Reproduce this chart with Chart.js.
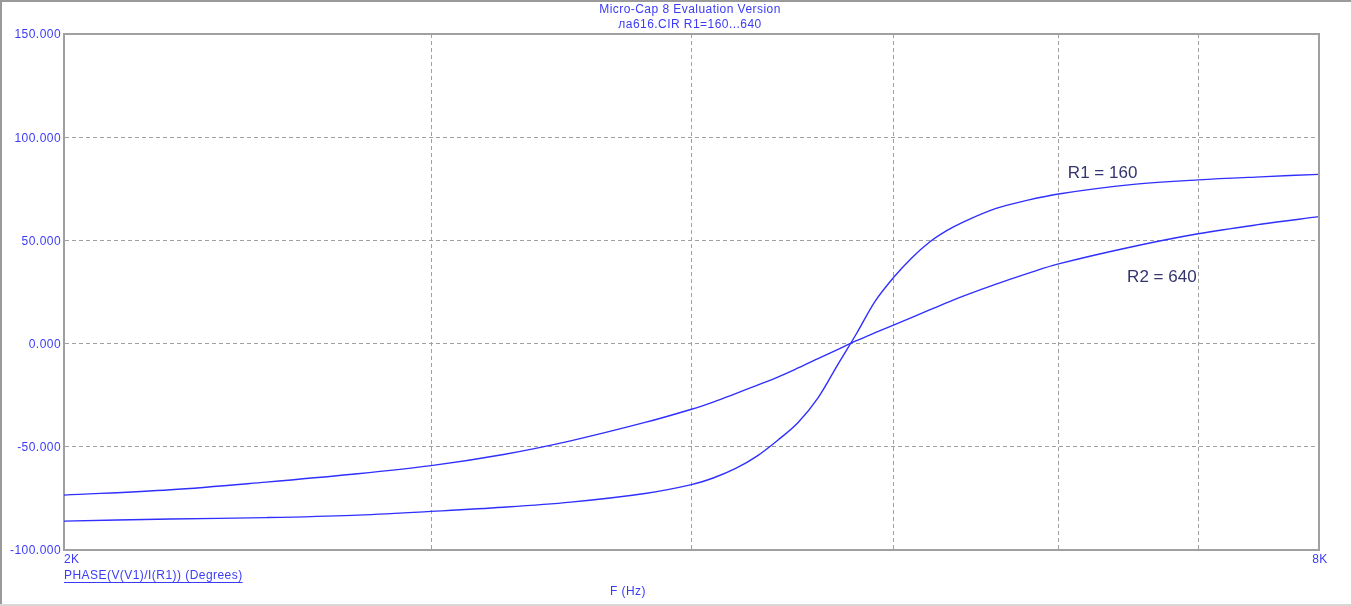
<!DOCTYPE html>
<html>
<head>
<meta charset="utf-8">
<script src="https://cdn.jsdelivr.net/npm/chart.js@4.4.0/dist/chart.umd.min.js"></script>
<style>
  html, body { margin: 0; padding: 0; background: #fff; }
  #wrap { width: 1351px; height: 606px; }
</style>
</head>
<body>
<div id="wrap"><canvas id="phaseChart" width="1351" height="606"></canvas></div>
<script>
// ---------------- DATA ----------------
const freqs = [2000, 2250, 2500, 2750, 3000, 3250, 3500, 3800, 4000, 4100, 4200, 4300, 4400, 4500, 4600, 4700, 4800, 4900, 5000, 5100, 5200, 5300, 5400, 5600, 5800, 6000, 6500, 7000, 7500, 8000];
const phaseR160 = [-86.0, -85.0, -84.3, -83.2, -81.3, -79.3, -76.8, -72.6, -68.3, -65.0, -60.5, -54.5, -46.8, -38.2, -26.3, -10.4, 4.9, 20.6, 32.0, 41.4, 49.0, 54.6, 58.9, 65.5, 69.5, 72.5, 77.0, 79.3, 80.8, 82.0];
const phaseR640 = [-73.4, -70.8, -67.1, -63.3, -59.1, -53.7, -47.1, -38.2, -31.8, -28.2, -24.2, -20.2, -16.2, -11.8, -7.3, -2.9, 1.4, 5.3, 9.0, 12.6, 16.2, 19.7, 23.0, 28.8, 34.0, 38.6, 46.8, 53.2, 57.8, 61.5];
const seriesNames = ["R1 = 160", "R2 = 640"];
const xTicks = [2000, 3000, 4000, 5000, 6000, 7000, 8000];
const xTickLabels = { 2000: "2K", 8000: "8K" };
const yTicks = [-100, -50, 0, 50, 100, 150];
const titleLines = ["Micro-Cap 8 Evaluation Version", "ла616.CIR R1=160...640"];
const yAxisTitle = "PHASE(V(V1)/I(R1)) (Degrees)";
const xAxisTitle = "F (Hz)";

// where the curve names sit (data coordinates)
const seriesLabelAt = [
  { f: 6062, v: 82.4 },
  { f: 6472, v: 32.3 }
];

const BLUE = "#2f2fff";
const TEXT_BLUE = "#3b3bf5";
const GRID = "#a0a0a0";
const SMALL_FONT = "12px Arial, 'Liberation Sans', sans-serif";

// ---------------- EXTRA DRAWING ----------------
const microCapDecor = {
  id: "microCapDecor",
  beforeDraw(chart) {
    const c = chart.ctx;
    c.save();
    c.fillStyle = "#fff";
    c.fillRect(0, 0, chart.width, chart.height);
    // window frame
    c.fillStyle = "#9a9a9a";
    c.fillRect(0, 0, 2, chart.height);
    c.fillRect(0, 0, chart.width, 2);
    c.fillStyle = "#d8d8d8";
    c.fillRect(0, chart.height - 2, chart.width, 2);
    c.restore();
  },
  afterDraw(chart) {
    const c = chart.ctx;
    const xs = chart.scales.x;
    const ys = chart.scales.y;
    const area = chart.chartArea;
    c.save();

    // top and right sides of the plot box
    c.strokeStyle = GRID;
    c.lineWidth = 2;
    c.beginPath();
    c.moveTo(area.left, area.top);
    c.lineTo(area.right, area.top);
    c.lineTo(area.right, area.bottom);
    c.stroke();

    c.font = SMALL_FONT;
    c.letterSpacing = "0.45px";
    c.fillStyle = TEXT_BLUE;
    c.textBaseline = "middle";

    // title
    c.textAlign = "center";
    c.fillText(titleLines[0], 690, 10);
    c.fillText(titleLines[1], 690, 25);

    // y tick labels
    c.textAlign = "right";
    yTicks.forEach(v => {
      c.fillText(v.toFixed(3), area.left - 3, ys.getPixelForValue(v) + 1);
    });

    // x tick labels
    c.textAlign = "left";
    c.fillText(xTickLabels[2000], xs.getPixelForValue(2000), area.bottom + 10);
    c.textAlign = "center";
    c.fillText(xTickLabels[8000], xs.getPixelForValue(8000) + 1, area.bottom + 10);

    // y axis title (underlined)
    c.textAlign = "left";
    const ty = area.bottom + 26;
    c.fillText(yAxisTitle, area.left, ty);
    const w = c.measureText(yAxisTitle).width;
    c.fillRect(area.left, ty + 6, w, 1);

    // x axis title
    c.textAlign = "center";
    c.fillText(xAxisTitle, 628, area.bottom + 42);

    // series names
    c.letterSpacing = "0px";
    c.font = "17px Arial, 'Liberation Sans', sans-serif";
    c.fillStyle = "#34346e";
    c.textAlign = "left";
    seriesLabelAt.forEach((p, i) => {
      c.fillText(seriesNames[i], xs.getPixelForValue(p.f), ys.getPixelForValue(p.v));
    });
    c.restore();
  }
};

// ---------------- CHART ----------------
const ctx = document.getElementById("phaseChart").getContext("2d");

new Chart(ctx, {
  type: "line",
  data: {
    labels: freqs,
    datasets: [
      {
        label: seriesNames[0],
        data: freqs.map((f, i) => ({ x: f, y: phaseR160[i] })),
        borderColor: BLUE,
        borderWidth: 1.4,
        pointRadius: 0,
        fill: false,
        tension: 0.35
      },
      {
        label: seriesNames[1],
        data: freqs.map((f, i) => ({ x: f, y: phaseR640[i] })),
        borderColor: BLUE,
        borderWidth: 1.4,
        pointRadius: 0,
        fill: false,
        tension: 0.35
      }
    ]
  },
  options: {
    responsive: false,
    animation: false,
    devicePixelRatio: 1,
    layout: { padding: { top: 34, right: 32, left: 0, bottom: 0 } },
    plugins: {
      legend: { display: false },
      tooltip: { enabled: false },
      title: { display: false }
    },
    scales: {
      x: {
        type: "logarithmic",
        min: 2000,
        max: 8000,
        afterBuildTicks: s => { s.ticks = xTicks.map(v => ({ value: v })); },
        afterFit: s => { s.height = 56; },
        ticks: { display: false },
        grid: { color: GRID, lineWidth: 1, drawTicks: false },
        border: { display: true, color: GRID, width: 2, dash: [4, 3] }
      },
      y: {
        type: "linear",
        min: -100,
        max: 150,
        afterBuildTicks: s => { s.ticks = yTicks.map(v => ({ value: v })); },
        afterFit: s => { s.width = 64; },
        ticks: { display: false },
        grid: { color: GRID, lineWidth: 1, drawTicks: false },
        border: { display: true, color: GRID, width: 2, dash: [4, 3] }
      }
    }
  },
  plugins: [microCapDecor]
});
</script>
</body>
</html>
